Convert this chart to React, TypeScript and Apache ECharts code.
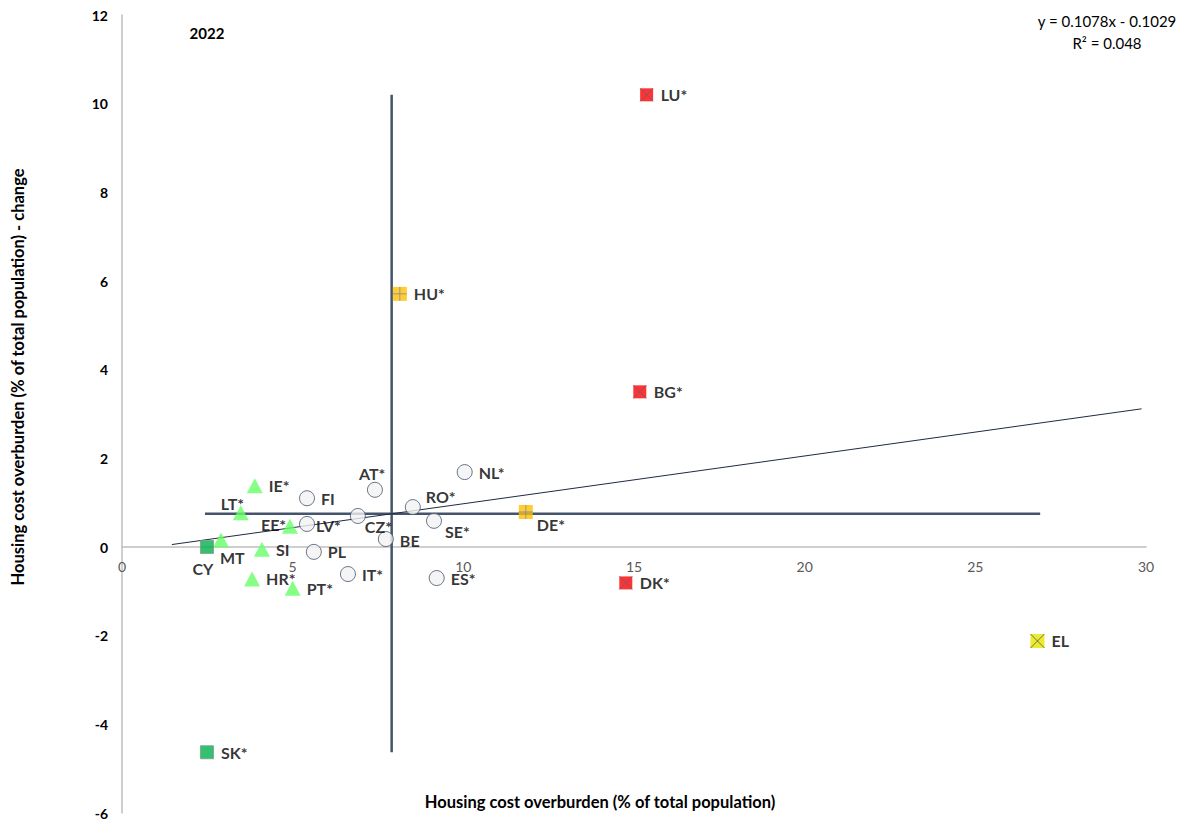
import React, { useEffect, useRef } from "react";
import * as echarts from "echarts";

// ---- data ----
const redCountries = ["LU*", "BG*", "DK*"];
const redX = [15.37, 15.17, 14.76];
const redY = [10.2, 3.5, -0.81];

const orangeCountries = ["HU*", "DE*"];
const orangeX = [8.14, 11.83];
const orangeY = [5.71, 0.79];

const yellowCountries = ["EL"];
const yellowX = [26.82];
const yellowY = [-2.12];

const greenCountries = ["CY", "SK*"];
const greenX = [2.49, 2.49];
const greenY = [0.0, -4.63];

const triCountries = ["IE*", "LT*", "EE*", "MT", "SI", "HR*", "PT*"];
const triX = [3.89, 3.48, 4.92, 2.9, 4.1, 3.81, 5.0];
const triY = [1.38, 0.77, 0.47, 0.16, -0.05, -0.72, -0.93];

const circCountries = ["NL*", "AT*", "FI", "RO*", "CZ*", "LV*", "SE*", "BE", "PL", "IT*", "ES*"];
const circX = [10.04, 7.41, 5.42, 8.52, 6.91, 5.42, 9.14, 7.73, 5.62, 6.62, 9.22];
const circY = [1.69, 1.29, 1.1, 0.9, 0.7, 0.52, 0.59, 0.18, -0.11, -0.61, -0.7];

const meanX = 7.9;
const meanY = 0.75;
const vLineY = [10.2, -4.63];
const hLineX = [2.43, 26.9];
const trendX = [1.46, 29.87];
const trendY = [0.055, 3.117];

const xTicks = [0, 5, 10, 15, 20, 25, 30];
const yTicks = [-6, -4, -2, 0, 2, 4, 6, 8, 10, 12];

// label offsets [dx, dy] relative to the marker centre, per country
const labelPos: Record<string, [number, number, string]> = {
  "LU*": [14, 0, "left"],
  "BG*": [14, 0, "left"],
  "DK*": [14, 0, "left"],
  "HU*": [14, 0, "left"],
  "DE*": [11, 13, "left"],
  "EL": [14, 0, "left"],
  "CY": [-4, 21, "center"],
  "SK*": [14, 0, "left"],
  "IE*": [14, 0, "left"],
  "LT*": [-20, -9, "left"],
  "EE*": [-29, -2, "left"],
  "MT": [-1, 18, "left"],
  "SI": [14, 0, "left"],
  "HR*": [14, 0, "left"],
  "PT*": [14, 0, "left"],
  "NL*": [14, 0, "left"],
  "AT*": [-16, -16, "left"],
  "FI": [14, 0, "left"],
  "RO*": [13, -11, "left"],
  "CZ*": [7, 11, "left"],
  "LV*": [9, 2, "left"],
  "SE*": [11, 11, "left"],
  "BE": [14, 1, "left"],
  "PL": [14, 0, "left"],
  "IT*": [14, 0, "left"],
  "ES*": [14, 0, "left"],
};

const FONT = "Lato, 'Liberation Sans', sans-serif";

function pts(names: string[], xs: number[], ys: number[], withLabel: boolean) {
  return names.map((n, i) => {
    const p = labelPos[n] || [14, 0, "left"];
    return {
      name: n,
      value: [xs[i], ys[i]],
      label: withLabel
        ? {
            show: true,
            position: "inside",
            offset: [p[0], p[1]],
            align: p[2],
            verticalAlign: "middle",
            formatter: n,
            fontFamily: FONT,
            fontWeight: "bold",
            fontSize: 16,
            color: "#000",
          }
        : { show: false },
    };
  });
}

const XPATH = "path://M0,0L10,10M10,0L0,10";
const PLUSPATH = "path://M5,0L5,10M0,5L10,5";

export default function App() {
  const ref = useRef<HTMLDivElement>(null);
  useEffect(() => {
    if (!ref.current) return;
    const chart = echarts.init(ref.current, undefined, { renderer: "svg" });
    const lineStyleRef = { color: "#44546A", width: 2.5 };
    chart.setOption({
      animation: false,
      grid: { left: 122, right: 45, top: 15, bottom: 7, outerBoundsMode: "none", containLabel: false },
      xAxis: {
        type: "value",
        min: 0,
        max: 30,
        interval: 5,
        offset: -266,
        axisLine: { onZero: false, lineStyle: { color: "#BFBFBF", width: 1.5 } },
        axisTick: { show: false },
        splitLine: { show: false },
        axisLabel: {
          color: "#595959",
          fontFamily: FONT,
          fontSize: 14,
          margin: 12,
          formatter: (v: number) => (xTicks.includes(v) ? String(v) : ""),
        },
      },
      yAxis: {
        type: "value",
        min: -6,
        max: 12,
        interval: 2,
        axisLine: { show: true, onZero: false, lineStyle: { color: "#BFBFBF", width: 1.5 } },
        axisTick: { show: false },
        splitLine: { show: false },
        axisLabel: {
          color: "#000",
          fontFamily: FONT,
          fontWeight: "bold",
          fontSize: 14,
          margin: 14,
          formatter: (v: number) => (yTicks.includes(v) ? String(v) : ""),
        },
      },
      graphic: [
        {
          type: "text",
          x: 18,
          y: 377,
          rotation: Math.PI / 2,
          style: {
            text: "Housing cost overburden (% of total population) - change",
            fontFamily: FONT,
            fontWeight: "bold",
            fontSize: 16.5,
            fill: "#000",
            align: "center",
            verticalAlign: "middle",
          },
        },
        {
          type: "text",
          x: 600,
          y: 802,
          style: {
            text: "Housing cost overburden (% of total population)",
            fontFamily: FONT,
            fontWeight: "bold",
            fontSize: 16.5,
            fill: "#000",
            align: "center",
            verticalAlign: "middle",
          },
        },
        {
          type: "text",
          x: 207,
          y: 33,
          style: {
            text: "2022",
            fontFamily: FONT,
            fontWeight: "bold",
            fontSize: 15,
            fill: "#000",
            align: "center",
            verticalAlign: "middle",
          },
        },
        {
          type: "text",
          x: 1107,
          y: 32,
          style: {
            text: "y = 0.1078x - 0.1029\nR² = 0.048",
            fontFamily: FONT,
            fontSize: 15,
            lineHeight: 22,
            fill: "#000",
            align: "center",
            verticalAlign: "middle",
          },
        },
      ],
      series: [
        {
          type: "line",
          data: [[meanX, vLineY[0]], [meanX, vLineY[1]]],
          symbol: "none",
          lineStyle: lineStyleRef,
          silent: true,
          z: 1,
        },
        {
          type: "line",
          data: [[hLineX[0], meanY], [hLineX[1], meanY]],
          symbol: "none",
          lineStyle: lineStyleRef,
          silent: true,
          z: 1,
        },
        {
          type: "line",
          data: [[trendX[0], trendY[0]], [trendX[1], trendY[1]]],
          symbol: "none",
          lineStyle: { color: "#1F2A44", width: 1 },
          silent: true,
          z: 2,
        },
        {
          type: "scatter",
          data: pts(circCountries, circX, circY, true),
          symbol: "circle",
          symbolSize: 15,
          itemStyle: { color: "#F2F2F2", borderColor: "#44546A", borderWidth: 1 },
          z: 3,
        },
        {
          type: "scatter",
          data: pts(triCountries, triX, triY, true),
          symbol: "triangle",
          symbolSize: [16, 15],
          itemStyle: { color: "#66FF66" },
          z: 4,
        },
        {
          type: "scatter",
          data: pts(greenCountries, greenX, greenY, true),
          symbol: "rect",
          symbolSize: 13,
          itemStyle: { color: "#00B050", borderColor: "#7F9F7F", borderWidth: 1 },
          z: 4,
        },
        {
          type: "scatter",
          data: pts(redCountries, redX, redY, true),
          symbol: "rect",
          symbolSize: 13,
          itemStyle: { color: "#FF0000" },
          z: 4,
        },
        {
          type: "scatter",
          data: pts(redCountries, redX, redY, false),
          symbol: XPATH,
          symbolSize: 13,
          itemStyle: { color: "none", borderColor: "#5A6478", borderWidth: 1 },
          z: 5,
        },
        {
          type: "scatter",
          data: pts(orangeCountries, orangeX, orangeY, true),
          symbol: "rect",
          symbolSize: 14,
          itemStyle: { color: "#FFC000" },
          z: 4,
        },
        {
          type: "scatter",
          data: pts(orangeCountries, orangeX, orangeY, false),
          symbol: PLUSPATH,
          symbolSize: 14,
          itemStyle: { color: "none", borderColor: "#7F8AA0", borderWidth: 1 },
          z: 5,
        },
        {
          type: "scatter",
          data: pts(yellowCountries, yellowX, yellowY, true),
          symbol: "rect",
          symbolSize: 14,
          itemStyle: { color: "#E6E600" },
          z: 4,
        },
        {
          type: "scatter",
          data: pts(yellowCountries, yellowX, yellowY, false),
          symbol: XPATH,
          symbolSize: 14,
          itemStyle: { color: "none", borderColor: "#555555", borderWidth: 1 },
          z: 5,
        },
      ],
    });
    return () => chart.dispose();
  }, []);
  return <div ref={ref} style={{ width: 1191, height: 820, position: "absolute", left: 0, top: 0 }} />;
}
